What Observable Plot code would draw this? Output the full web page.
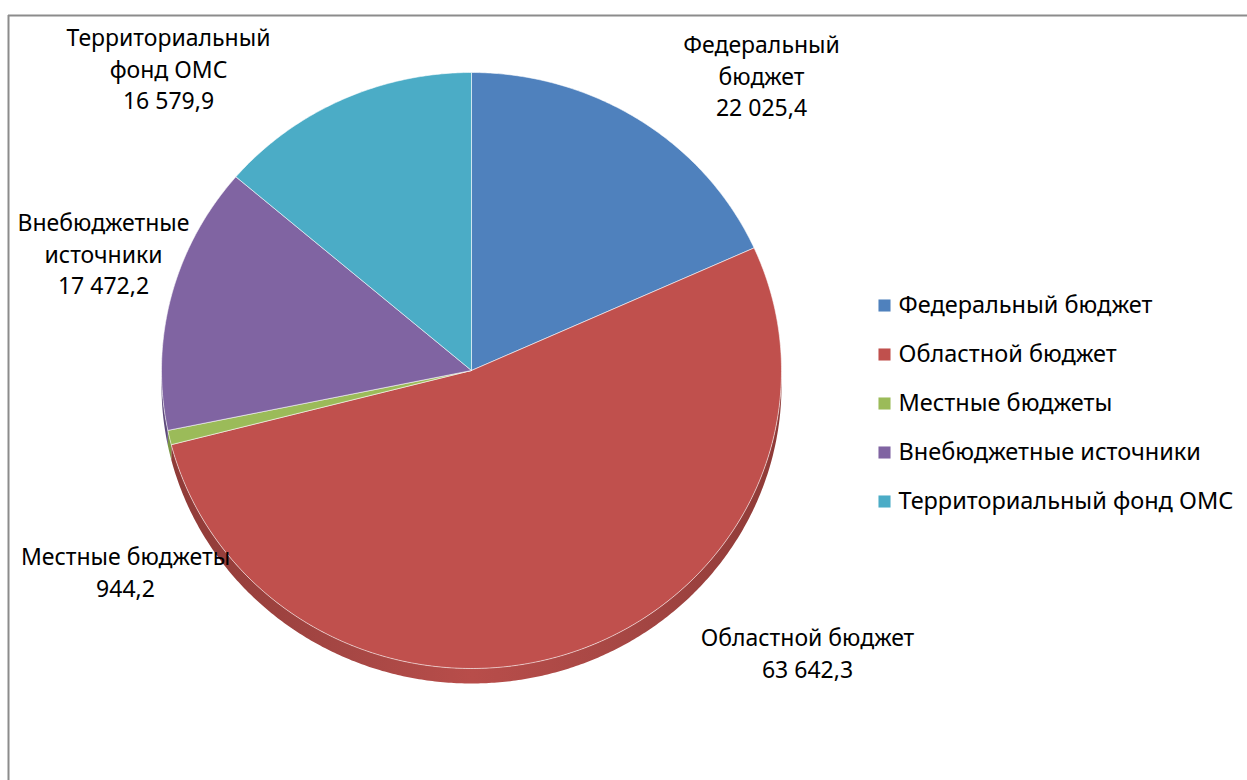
<!DOCTYPE html>
<html lang="ru">
<head>
<meta charset="utf-8">
<script src="https://cdn.jsdelivr.net/npm/d3@7"></script>
<script src="https://cdn.jsdelivr.net/npm/@observablehq/plot@0.6"></script>
<style>
  html, body { margin: 0; padding: 0; background: #fff; }
  #chart svg { display: block; }
</style>
</head>
<body>
<div id="chart"></div>
<script>
// ---- data ----
const categories = ["Федеральный бюджет", "Областной бюджет", "Местные бюджеты", "Внебюджетные источники", "Территориальный фонд ОМС"];
const values = [22025.4, 63642.3, 944.2, 17472.2, 16579.9];
const labelNames = ["Федеральный\nбюджет", "Областной бюджет", "Местные бюджеты", "Внебюджетные\nисточники", "Территориальный\nфонд ОМС"];
const colors = ["#4F81BD", "#C0504D", "#9BBB59", "#8064A2", "#4BACC6"];
const sideColors = ["#3B6495", "url(#sideRed)", "#7A9645", "#5E4A7C", "#36869C"];

// ---- layout ----
const W = 1247, H = 780;
const cx = 471, cy = 370, rx = 310, ry = 298, depth = 15;
const labelPos = [[761, 74], [807, 651], [125, 570], [103, 252], [168, 67]];
const legendX = 884, legendTextX = 898, legendY0 = 305, legendDy = 49;

const ruFmt = d3.formatLocale({decimal: ",", thousands: "\u00a0", grouping: [3], currency: ["", ""]}).format(",.1f");

const arcs = d3.pie().sort(null).value(d => d)(values);
const px = a => cx + rx * Math.sin(a);
const py = a => cy - ry * Math.cos(a);

function arcPoints(a0, a1, dy) {
  const n = Math.max(2, Math.ceil((a1 - a0) / (Math.PI / 360)));
  const pts = [];
  for (let k = 0; k <= n; k++) {
    const a = a0 + (a1 - a0) * k / n;
    pts.push({x: px(a), y: py(a) + dy});
  }
  return pts;
}

// top faces
const faces = [];
arcs.forEach((s, i) => {
  const pts = [{x: cx, y: cy}, ...arcPoints(s.startAngle, s.endAngle, 0), {x: cx, y: cy}];
  pts.forEach(p => faces.push({...p, cat: categories[i]}));
});

// side walls (only lower half visible)
const sideMarks = [];
arcs.forEach((s, i) => {
  const a0 = Math.max(s.startAngle, Math.PI / 2);
  const a1 = Math.min(s.endAngle, 3 * Math.PI / 2);
  if (a1 <= a0) return;
  const top = arcPoints(a0, a1, 0);
  const bot = arcPoints(a0, a1, depth).reverse();
  const poly = [...top, ...bot, top[0]];
  sideMarks.push(Plot.line(poly, {x: "x", y: "y", fill: sideColors[i], stroke: "none", curve: "linear"}));
});

const labels = arcs.map((s, i) => ({
  x: labelPos[i][0], y: labelPos[i][1],
  text: labelNames[i] + "\n" + ruFmt(values[i])
}));

const legend = categories.map((c, i) => ({cat: c, x: legendX, tx: legendTextX, y: legendY0 + i * legendDy}));

const chart = Plot.plot({
  width: W, height: H, margin: 0,
  x: {domain: [0, W], range: [0, W], axis: null},
  y: {domain: [0, H], range: [0, H], axis: null},
  color: {domain: categories, range: colors},
  style: {fontFamily: "'Noto Sans', 'Open Sans', sans-serif", background: "#fff"},
  marks: [
    Plot.ruleY([15], {x1: 8, x2: W, stroke: "#8c8c8c", strokeWidth: 2}),
    Plot.ruleX([8], {y1: 15, y2: H, stroke: "#8c8c8c", strokeWidth: 2}),
    ...sideMarks,
    Plot.line(faces, {x: "x", y: "y", z: "cat", fill: "cat", stroke: "white", strokeWidth: 0.8, strokeOpacity: 0.7, curve: "linear"}),
    Plot.text(labels, {x: "x", y: "y", text: "text", fontSize: 23, lineHeight: 1.38, textAnchor: "middle", lineAnchor: "middle", fill: "#000"}),
    Plot.dot(legend, {x: "x", y: "y", fill: "cat", symbol: "square", r: 6.8, stroke: "none"}),
    Plot.text(legend, {x: "tx", y: "y", text: "cat", textAnchor: "start", fontSize: 23.5, fill: "#000"})
  ]
});

// gradient for the red side wall
const svgNS = "http://www.w3.org/2000/svg";
const defs = document.createElementNS(svgNS, "defs");
defs.innerHTML = `<linearGradient id="sideRed" gradientUnits="userSpaceOnUse" x1="${cx - rx}" x2="${cx + rx}" y1="0" y2="0">
  <stop offset="0" stop-color="#8E3A37"/>
  <stop offset="0.3" stop-color="#A64744"/>
  <stop offset="0.5" stop-color="#B84D4A"/>
  <stop offset="0.75" stop-color="#A64744"/>
  <stop offset="1" stop-color="#8E3A37"/>
</linearGradient>`;
chart.insertBefore(defs, chart.firstChild);
document.getElementById("chart").appendChild(chart);
</script>
</body>
</html>
